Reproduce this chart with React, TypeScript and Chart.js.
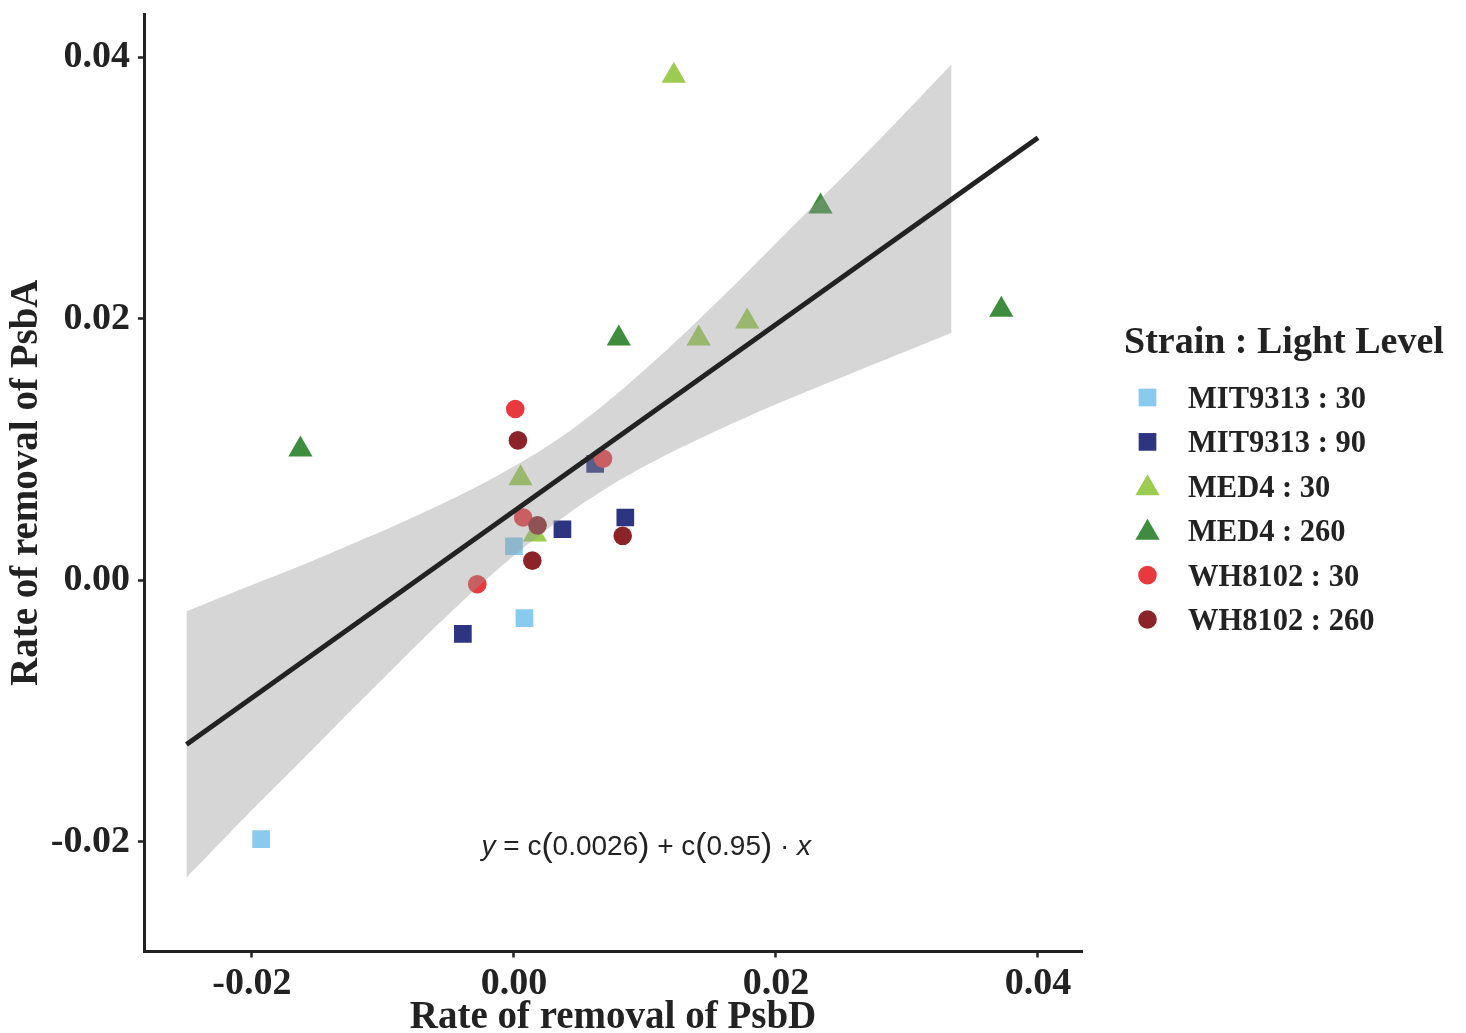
import React, { useEffect, useRef } from 'react';
import { Chart, registerables } from 'chart.js';

Chart.register(...registerables);

// ---- series (Strain : Light Level) ----
const seriesLabels = ['MIT9313 : 30', 'MIT9313 : 90', 'MED4 : 30', 'MED4 : 260', 'WH8102 : 30', 'WH8102 : 260'];
const seriesColors = ['#88CBEE', '#2D3480', '#9CCB52', '#3E8C3E', '#E8393F', '#8C2328'];
const seriesShapes = ['rect', 'rect', 'triangle', 'triangle', 'circle', 'circle'];
const seriesRadius = [12.5, 12.5, 14, 14, 9.3, 9.3];

// PsbD removal rate (x) and PsbA removal rate (y)
const mit30X = [-0.0193, 0.0, 0.0008];
const mit30Y = [-0.0198, 0.0026, -0.0029];
const mit90X = [-0.0039, 0.0037, 0.0062, 0.0085];
const mit90Y = [-0.0041, 0.0039, 0.0089, 0.0048];
const med30X = [0.0122, 0.0005, 0.0016, 0.0141, 0.0178];
const med30Y = [0.0386, 0.0078, 0.0035, 0.0185, 0.0198];
const med260X = [-0.0163, 0.008, 0.0234, 0.0372];
const med260Y = [0.01, 0.0185, 0.0286, 0.0207];
const wh30X = [0.0001, 0.0068, 0.0007, -0.0028];
const wh30Y = [0.0131, 0.0093, 0.0048, -0.0003];
const wh260X = [0.0003, 0.0018, 0.0014, 0.0083];
const wh260Y = [0.0107, 0.0042, 0.0015, 0.0034];

const seriesX = [mit30X, mit90X, med30X, med260X, wh30X, wh260X];
const seriesY = [mit30Y, mit90Y, med30Y, med260Y, wh30Y, wh260Y];

// fitted regression line end points
const fitX = [-0.025, 0.04];
const fitY = [-0.01256, 0.03385];

// confidence band of the fit
const bandX = [-0.025, -0.0202, -0.0163, -0.0125, -0.0087, -0.0049, -0.0011, 0.0028, 0.0066, 0.0104, 0.0142, 0.018, 0.0218, 0.0257, 0.0295, 0.0334];
const bandUpper = [-0.00237, -0.00044, 0.00111, 0.00272, 0.00437, 0.00614, 0.0081, 0.01042, 0.01322, 0.01648, 0.02003, 0.02376, 0.02759, 0.03147, 0.03537, 0.03947];
const bandLower = [-0.02275, -0.01779, -0.01389, -0.01003, -0.00623, -0.00253, 0.00095, 0.0041, 0.00675, 0.00895, 0.01085, 0.01259, 0.01421, 0.0158, 0.01734, 0.01894];

// axes
const xTicks = [-0.02, 0.0, 0.02, 0.04];
const yTicks = [-0.02, 0.0, 0.02, 0.04];
const xRange = [-0.02824, 0.04336];
const yRange = [-0.0284, 0.04332];

// regression equation label (anchor = centre of baseline)
const eqLabelX = 0.0101;
const eqLabelY = -0.021;

const SERIF = "'Liberation Serif', 'Times New Roman', Times, serif";
const SANS = "'Liberation Sans', Arial, Helvetica, sans-serif";
const INK = '#222222';

const toPoints = (xs: number[], ys: number[]) => xs.map((x, i) => ({ x, y: ys[i] }));

function drawMarker(ctx: CanvasRenderingContext2D, shape: string, x: number, y: number, r: number, color: string) {
  ctx.save();
  ctx.fillStyle = color;
  ctx.beginPath();
  if (shape === 'rect') {
    const s = Math.SQRT1_2 * r;
    ctx.rect(x - s, y - s, 2 * s, 2 * s);
  } else if (shape === 'triangle') {
    ctx.moveTo(x, y - r);
    ctx.lineTo(x + r * Math.sin((2 * Math.PI) / 3), y - r * Math.cos((2 * Math.PI) / 3));
    ctx.lineTo(x + r * Math.sin((4 * Math.PI) / 3), y - r * Math.cos((4 * Math.PI) / 3));
    ctx.closePath();
  } else {
    ctx.arc(x, y, r, 0, Math.PI * 2);
  }
  ctx.fill();
  ctx.restore();
}

const overlayPlugin = {
  id: 'overlay',
  afterDraw(chart: any) {
    const ctx: CanvasRenderingContext2D = chart.ctx;
    const xs = chart.scales.x;
    const ys = chart.scales.y;

    // regression equation
    ctx.save();
    ctx.fillStyle = INK;
    ctx.textBaseline = 'alphabetic';
    const base = 28;
    const paren = 33.5;
    const pieces = [
      { t: 'y', italic: true, size: base },
      { t: ' = c', italic: false, size: base },
      { t: '(', italic: false, size: paren },
      { t: '0.0026', italic: false, size: base },
      { t: ')', italic: false, size: paren },
      { t: ' + c', italic: false, size: base },
      { t: '(', italic: false, size: paren },
      { t: '0.95', italic: false, size: base },
      { t: ')', italic: false, size: paren },
      { t: ' \u00B7 ', italic: false, size: base },
      { t: 'x', italic: true, size: base },
    ];
    const fontOf = (p: any) => `${p.italic ? 'italic ' : ''}${p.size}px ${SANS}`;
    let total = 0;
    const widths = pieces.map((p) => {
      ctx.font = fontOf(p);
      const w = ctx.measureText(p.t).width;
      total += w;
      return w;
    });
    let cx = xs.getPixelForValue(eqLabelX) - total / 2;
    const by = ys.getPixelForValue(eqLabelY);
    pieces.forEach((p, i) => {
      ctx.font = fontOf(p);
      ctx.textAlign = 'left';
      ctx.fillText(p.t, cx, by + (p.size === paren ? 1.5 : 0));
      cx += widths[i];
    });
    ctx.restore();

    // legend
    ctx.save();
    ctx.fillStyle = INK;
    ctx.textAlign = 'left';
    ctx.textBaseline = 'alphabetic';
    ctx.font = `bold 38px ${SERIF}`;
    ctx.fillText('Strain : Light Level', 1124, 353);
    ctx.font = `bold 30.5px ${SERIF}`;
    seriesLabels.forEach((label, i) => {
      const cy = 397.5 + i * 44.4;
      drawMarker(ctx, seriesShapes[i], 1147.5, cy + (seriesShapes[i] === 'triangle' ? 2 : 0), seriesRadius[i], seriesColors[i]);
      ctx.fillStyle = INK;
      ctx.fillText(label, 1188, cy + 10.5);
    });
    ctx.restore();
  },
};

export default function App() {
  const canvasRef = useRef<HTMLCanvasElement | null>(null);

  useEffect(() => {
    const canvas = canvasRef.current;
    if (!canvas) return;

    const scatterSets = seriesLabels.map((label, i) => ({
      type: 'scatter' as const,
      label,
      data: toPoints(seriesX[i], seriesY[i]),
      pointStyle: seriesShapes[i],
      pointRadius: seriesRadius[i],
      pointHoverRadius: seriesRadius[i],
      pointBackgroundColor: seriesColors[i],
      pointBorderWidth: 0,
      pointBorderColor: 'rgba(0,0,0,0)',
      backgroundColor: seriesColors[i],
      showLine: false,
      order: 7 - i,
    }));

    const chart = new Chart(canvas, {
      type: 'scatter',
      data: {
        datasets: [
          {
            type: 'line' as const,
            label: 'fit',
            data: toPoints(fitX, fitY),
            borderColor: INK,
            borderWidth: 5,
            pointRadius: 0,
            fill: false,
            tension: 0,
            order: 0,
          },
          {
            type: 'line' as const,
            label: 'band upper',
            data: toPoints(bandX, bandUpper),
            borderColor: 'rgba(0,0,0,0)',
            borderWidth: 0,
            pointRadius: 0,
            fill: '+1',
            backgroundColor: 'rgba(153,153,153,0.4)',
            tension: 0.4,
            order: 1,
          },
          {
            type: 'line' as const,
            label: 'band lower',
            data: toPoints(bandX, bandLower),
            borderColor: 'rgba(0,0,0,0)',
            borderWidth: 0,
            pointRadius: 0,
            fill: false,
            tension: 0.4,
            order: 1,
          },
          ...scatterSets,
        ] as any,
      },
      options: {
        responsive: false,
        animation: false,
        devicePixelRatio: 1,
        layout: { padding: { top: 12, right: 384, left: 0, bottom: 0 } },
        plugins: {
          legend: { display: false },
          tooltip: { enabled: false },
        },
        scales: {
          x: {
            type: 'linear',
            min: xRange[0],
            max: xRange[1],
            afterBuildTicks: (scale: any) => {
              scale.ticks = xTicks.map((value) => ({ value }));
            },
            afterFit: (scale: any) => {
              scale.height = 81.5;
              scale.paddingLeft = 0;
              scale.paddingRight = 0;
            },
            grid: {
              display: true,
              drawOnChartArea: false,
              drawTicks: true,
              tickLength: 6,
              tickWidth: 2.5,
              tickColor: INK,
            },
            border: { display: true, color: INK, width: 3 },
            ticks: {
              font: { family: SERIF, size: 38, weight: 'bold' },
              color: INK,
              padding: 4,
              maxRotation: 0,
              callback: (v: any) => Number(v).toFixed(2),
            },
            title: {
              display: true,
              text: 'Rate of removal of PsbD',
              font: { family: SERIF, size: 39, weight: 'bold', lineHeight: 1 },
              color: INK,
              padding: { top: 0, bottom: -4 },
            },
          },
          y: {
            type: 'linear',
            min: yRange[0],
            max: yRange[1],
            afterBuildTicks: (scale: any) => {
              scale.ticks = yTicks.map((value) => ({ value }));
            },
            afterFit: (scale: any) => {
              scale.width = 144;
              scale.paddingTop = 0;
              scale.paddingBottom = 0;
            },
            grid: {
              display: true,
              drawOnChartArea: false,
              drawTicks: true,
              tickLength: 6,
              tickWidth: 2.5,
              tickColor: INK,
            },
            border: { display: true, color: INK, width: 3 },
            ticks: {
              font: { family: SERIF, size: 38, weight: 'bold' },
              color: INK,
              padding: 8,
              callback: (v: any) => Number(v).toFixed(2),
            },
            title: {
              display: true,
              text: 'Rate of removal of PsbA',
              font: { family: SERIF, size: 39, weight: 'bold', lineHeight: 1 },
              color: INK,
              padding: { top: 7, bottom: 0 },
            },
          },
        },
      } as any,
      plugins: [overlayPlugin],
    });

    return () => {
      chart.destroy();
    };
  }, []);

  return (
    <div style={{ position: 'fixed', left: 0, top: 0, width: 1466, height: 1033, background: '#ffffff' }}>
      <canvas ref={canvasRef} width={1466} height={1033} style={{ width: 1466, height: 1033, display: 'block' }} />
    </div>
  );
}
